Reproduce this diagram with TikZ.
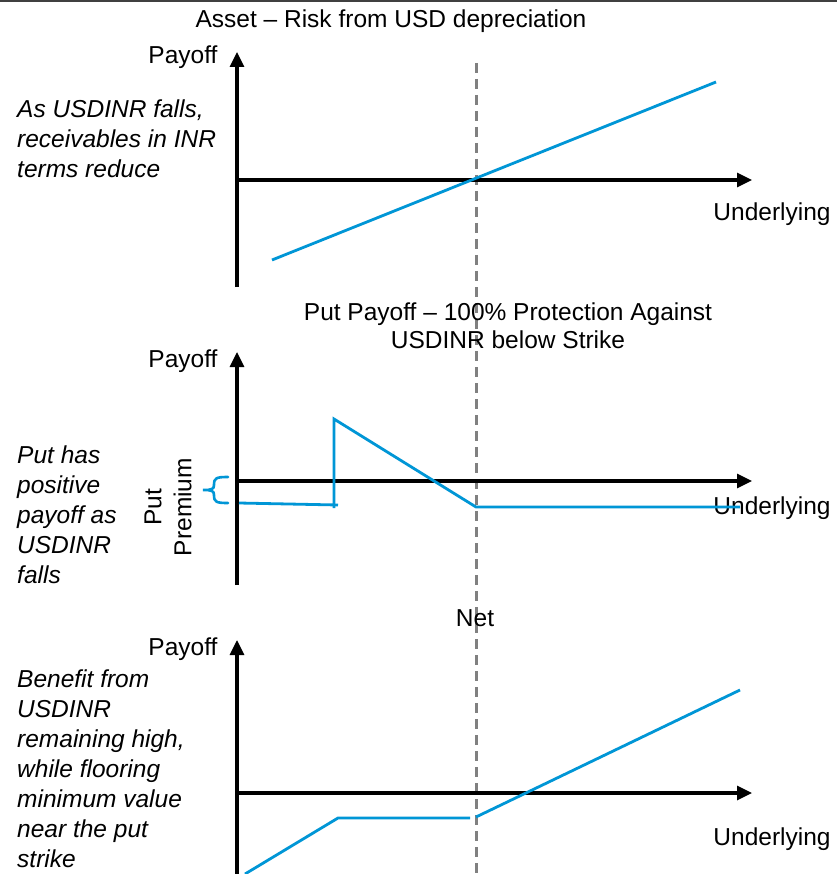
\documentclass[tikz,border=0pt]{standalone}
\usepackage{fontspec}
\setmainfont{Liberation Sans}
\usetikzlibrary{arrows.meta}
\definecolor{payblue}{HTML}{0096D6}
\definecolor{strikegray}{HTML}{808080}
\definecolor{rulegray}{HTML}{404040}
\begin{document}
\begin{tikzpicture}[x=1pt,y=-1pt,
  every node/.style={inner sep=0pt,font=\fontsize{24.5}{30}\selectfont},
  axis/.style={line width=3.2pt,-{Triangle[length=15pt,width=14pt]}},
  pay/.style={line width=2.8pt,payblue},
  strike/.style={line width=3pt,strikegray,dash pattern=on 10pt off 6pt},
  note/.style={anchor=north west,align=left,font=\fontsize{24.5}{30}\selectfont\itshape},
  title/.style={align=center,font=\fontsize{24.5}{28}\selectfont}]
\useasboundingbox (0,0) rectangle (837,874);
\fill[white] (0,0) rectangle (837,874);

% top rule
\coordinate (ruleL) at (0,1);
\coordinate (ruleR) at (837,1);
\draw[rulegray,line width=2pt] (ruleL) -- (ruleR);

% strike level shared by all three panels
\coordinate (strikeTop) at (476,63);
\coordinate (strikeBot) at (476,874);
\draw[strike] (strikeTop) -- (strikeBot);

% ---------- panel 1: asset ----------
\node[title] (t1) at (391,21) {Asset -- Risk from USD depreciation};
\coordinate (o1) at (237,180);
\coordinate (y1b) at (237,287);
\coordinate (y1t) at (237,52);
\coordinate (x1r) at (752,180);
\draw[axis] (y1b) -- (y1t);
\draw[axis] (o1) -- (x1r);
\node (pay1) at (183,57) {Payoff};
\node (und1) at (772,214) {Underlying};
\node[note] (n1) at (17,100) {As USDINR falls,\\receivables in INR\\terms reduce};
\coordinate (a1s) at (272,260);
\coordinate (a1e) at (716,82);
\draw[pay] (a1s) -- (a1e);

% ---------- panel 2: put ----------
\node[title] (t2) at (508,326) {Put Payoff -- 100\% Protection Against\\USDINR below Strike};
\coordinate (o2) at (237,481);
\coordinate (y2b) at (237,585);
\coordinate (y2t) at (237,352);
\coordinate (x2r) at (752,481);
\draw[axis] (y2b) -- (y2t);
\draw[axis] (o2) -- (x2r);
\node (pay2) at (183,361) {Payoff};
\node (und2) at (772,508) {Underlying};
\node[note] (n2) at (17,446) {Put has\\positive\\payoff as\\USDINR\\falls};
\node[rotate=90,align=center,font=\fontsize{24.5}{30}\selectfont] (prem) at (168,507) {Put\\Premium};
% brace marking the premium paid
\coordinate (brTop) at (228,477);
\coordinate (brTip) at (203,490);
\coordinate (brBot) at (228,503);
\draw[pay,line width=2.6pt,line cap=round]
  (brTop) .. controls (216,477) and (214,478) .. (214,485)
          .. controls (214,489) and (212,490) .. (brTip)
          .. controls (212,490) and (214,491) .. (214,495)
          .. controls (214,502) and (216,503) .. (brBot);
\coordinate (p2a) at (239,503);
\coordinate (p2b) at (338,505);
\draw[pay] (p2a) -- (p2b);
\coordinate (p2c) at (334,508);
\coordinate (p2d) at (334,419);
\coordinate (p2e) at (476,507);
\coordinate (p2f) at (740,507);
\draw[pay] (p2c) -- (p2d) -- (p2e) -- (p2f);

% ---------- panel 3: net ----------
\node[title] (t3) at (475,618) {Net};
\coordinate (o3) at (237,793);
\coordinate (y3b) at (237,874);
\coordinate (y3t) at (237,640);
\coordinate (x3r) at (752,793);
\draw[axis] (y3b) -- (y3t);
\draw[axis] (o3) -- (x3r);
\node (pay3) at (183,649) {Payoff};
\node (und3) at (772,839) {Underlying};
\node[note] (n3) at (17,670) {Benefit from\\USDINR\\remaining high,\\while flooring\\minimum value\\near the put\\strike};
\coordinate (p3a) at (245,874);
\coordinate (p3b) at (338,818);
\coordinate (p3c) at (470,818);
\draw[pay] (p3a) -- (p3b) -- (p3c);
\coordinate (p3d) at (476,817);
\coordinate (p3e) at (740,690);
\draw[pay] (p3d) -- (p3e);
\end{tikzpicture}
\end{document}
